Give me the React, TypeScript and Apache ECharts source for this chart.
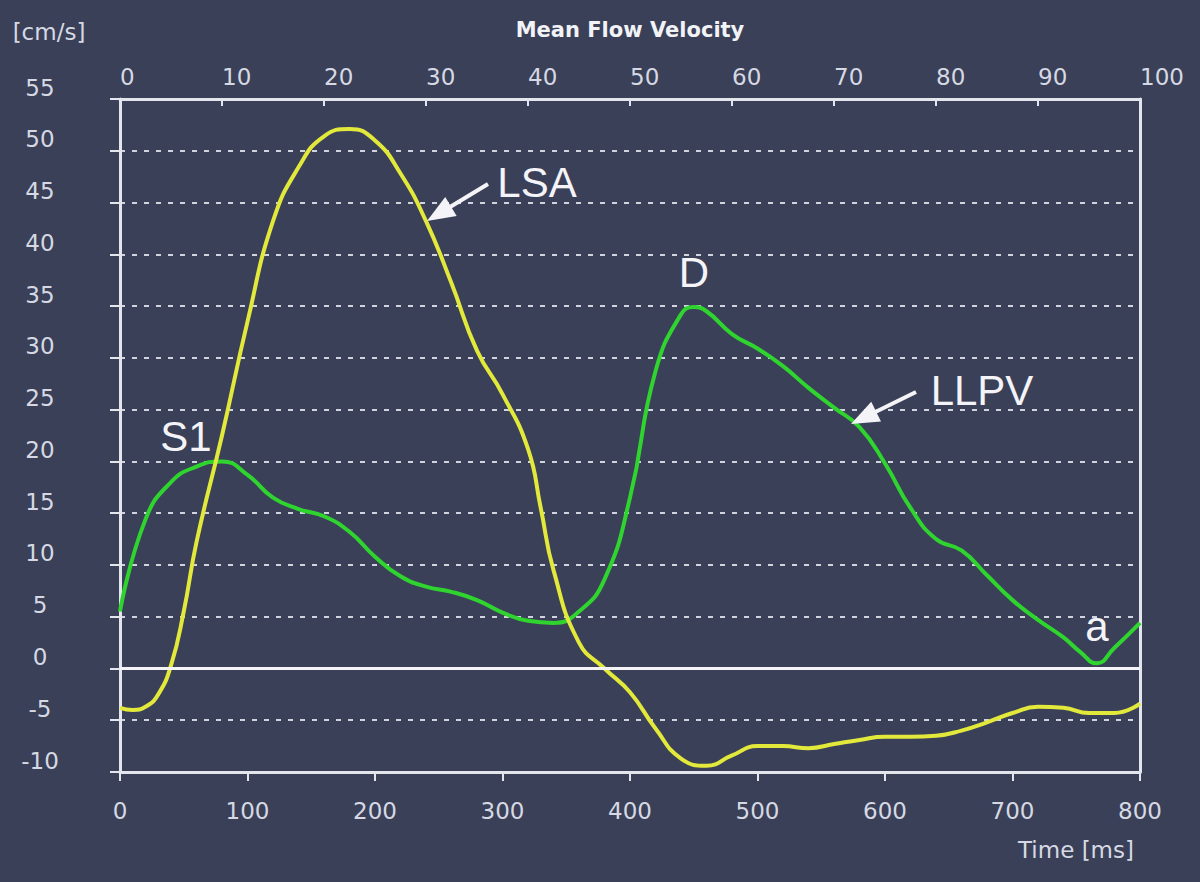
import React, { useEffect, useRef } from "react";
import * as echarts from "echarts";

// ---- data ----
const lsaTime = [0, 10, 20, 30, 40, 50, 60, 80, 100, 120, 140, 160, 180, 200, 220, 240, 260, 280, 300, 320, 330, 340, 360, 380, 400, 420, 440, 460, 480, 500, 520, 540, 560, 580, 600, 620, 640, 660, 680, 700, 720, 740, 760, 780, 800];
const lsaValues = [-3.8, -4.0, -3.7, -2.5, 0.3, 5.5, 12.2, 22.5, 33.5, 43.2, 48.4, 51.4, 52.1, 51.0, 47.8, 43.2, 37.2, 30.7, 26.5, 21.2, 15.5, 9.5, 2.5, 0, -2.3, -5.8, -8.7, -9.4, -8.4, -7.5, -7.5, -7.7, -7.3, -6.9, -6.6, -6.6, -6.5, -6.0, -5.2, -4.3, -3.7, -3.8, -4.3, -4.3, -3.4];

const llpvTime = [0, 20, 40, 60, 80, 100, 120, 140, 160, 180, 200, 220, 240, 260, 280, 300, 320, 340, 360, 380, 400, 420, 440, 450, 460, 480, 500, 520, 540, 560, 580, 600, 620, 640, 660, 680, 700, 720, 740, 753, 766, 780, 800];
const llpvValues = [5.5, 14.4, 18.0, 19.5, 20.0, 18.7, 16.5, 15.4, 14.7, 13.2, 10.8, 8.9, 7.9, 7.4, 6.6, 5.4, 4.6, 4.4, 5.5, 8.6, 16.5, 28.7, 34.2, 34.9, 34.5, 32.3, 30.9, 29.2, 27.1, 25.2, 23.3, 19.8, 15.5, 12.5, 11.4, 9.0, 6.6, 4.7, 3.0, 1.6, 0.5, 2.0, 4.4];

const timeMin = 0, timeMax = 800, timeStep = 100;
const pctMin = 0, pctMax = 100, pctStep = 10;
const velMin = -10, velMax = 55, velStep = 5;

const titleText = "Mean Flow Velocity";
const yUnit = "[cm/s]";
const xName = "Time [ms]";

// ---- style ----
const BG = "#3a4058";
const AXIS = "#e4e6ee";
const LABEL = "#d6d9e3";
const YELLOW = "#e2e93a";
const GREEN = "#2fd42f";
const WHITE = "#f4f4f8";
const AX_FONT = '"DejaVu Sans", sans-serif';
const ANN_FONT = '"Liberation Sans", Arial, sans-serif';
const AX_SIZE = 23;

function arrow(tail: number[], tip: number[], headLen: number, headHalf: number) {
  const dx = tip[0] - tail[0];
  const dy = tip[1] - tail[1];
  const len = Math.sqrt(dx * dx + dy * dy);
  const ux = dx / len, uy = dy / len;
  const bx = tip[0] - ux * headLen, by = tip[1] - uy * headLen;
  const px = -uy * headHalf, py = ux * headHalf;
  return [
    {
      type: "line",
      shape: { x1: tail[0], y1: tail[1], x2: bx + ux * 2, y2: by + uy * 2 },
      style: { stroke: WHITE, lineWidth: 4 },
      z: 100,
    },
    {
      type: "polygon",
      shape: { points: [[tip[0], tip[1]], [bx + px, by + py], [bx - px, by - py]] },
      style: { fill: WHITE },
      z: 100,
    },
  ];
}

function annot(text: string, x: number, y: number) {
  return {
    type: "text",
    x,
    y,
    z: 100,
    style: { text, fill: WHITE, font: `42px ${ANN_FONT}`, align: "center", verticalAlign: "middle" },
  };
}

export default function App() {
  const ref = useRef<HTMLDivElement>(null);
  useEffect(() => {
    if (!ref.current) return;
    const chart = echarts.init(ref.current, null, { renderer: "svg" });
    const option: any = {
      animation: false,
      backgroundColor: BG,
      grid: { left: 120, right: 60, top: 99, bottom: 110, show: false },
      xAxis: [
        {
          type: "value",
          position: "bottom",
          min: timeMin,
          max: timeMax,
          interval: timeStep,
          axisLine: { show: true, onZero: false, lineStyle: { color: AXIS, width: 3 } },
          axisTick: { show: true, inside: false, length: 9, lineStyle: { color: AXIS, width: 2 } },
          axisLabel: { color: LABEL, fontSize: AX_SIZE, fontFamily: AX_FONT, margin: 27 },
          splitLine: { show: false },
        },
        {
          type: "value",
          position: "top",
          min: pctMin,
          max: pctMax,
          interval: pctStep,
          axisLine: { show: true, onZero: false, lineStyle: { color: AXIS, width: 3 } },
          axisTick: { show: true, inside: true, length: 7, lineStyle: { color: AXIS, width: 2 } },
          axisLabel: { color: LABEL, fontSize: AX_SIZE, fontFamily: AX_FONT, margin: 11, align: "left" },
          splitLine: { show: false },
        },
      ],
      yAxis: [
        {
          type: "value",
          position: "left",
          min: velMin,
          max: velMax,
          interval: velStep,
          axisLine: { show: true, onZero: false, lineStyle: { color: AXIS, width: 3 } },
          axisTick: { show: true, inside: false, length: 10, lineStyle: { color: AXIS, width: 2 } },
          axisLabel: {
            color: LABEL,
            fontSize: AX_SIZE,
            fontFamily: AX_FONT,
            margin: 80,
            align: "center",
            verticalAlign: "bottom",
          },
          splitLine: { show: true, lineStyle: { color: "rgba(236,238,246,0.85)", width: 2, type: [5, 7] } },
        },
        {
          type: "value",
          position: "right",
          min: velMin,
          max: velMax,
          interval: velStep,
          axisLine: { show: true, onZero: false, lineStyle: { color: AXIS, width: 3 } },
          axisTick: { show: false },
          axisLabel: { show: false },
          splitLine: { show: false },
        },
      ],
      series: [
        {
          name: "zero",
          type: "line",
          data: [],
          z: 1,
          markLine: {
            silent: true,
            symbol: "none",
            label: { show: false },
            lineStyle: { color: WHITE, type: "solid", width: 3 },
            data: [{ yAxis: 0 }],
          },
        },
        {
          name: "LLPV",
          type: "line",
          xAxisIndex: 0,
          yAxisIndex: 0,
          smooth: 0.5,
          symbol: "none",
          z: 3,
          lineStyle: { color: GREEN, width: 4 },
          data: llpvTime.map((t, i) => [t, llpvValues[i]]),
        },
        {
          name: "LSA",
          type: "line",
          xAxisIndex: 0,
          yAxisIndex: 0,
          smooth: 0.5,
          symbol: "none",
          z: 4,
          lineStyle: { color: YELLOW, width: 4 },
          data: lsaTime.map((t, i) => [t, lsaValues[i]]),
        },
      ],
      graphic: [
        {
          type: "text",
          x: 630,
          y: 30,
          style: { text: titleText, fill: "#f2f3f7", font: `bold 21px ${AX_FONT}`, align: "center", verticalAlign: "middle" },
        },
        {
          type: "text",
          x: 49,
          y: 32,
          style: { text: yUnit, fill: LABEL, font: `${AX_SIZE}px ${AX_FONT}`, align: "center", verticalAlign: "middle" },
        },
        {
          type: "text",
          x: 1076,
          y: 850,
          style: { text: xName, fill: LABEL, font: `${AX_SIZE}px ${AX_FONT}`, align: "center", verticalAlign: "middle" },
        },
        annot("S1", 186, 436),
        annot("LSA", 537, 182),
        annot("D", 694, 272),
        annot("LLPV", 982, 390),
        annot("a", 1097, 626),
        ...arrow([488, 184], [427, 221], 28, 11),
        ...arrow([916, 392], [851, 424], 28, 11),
      ],
    };
    chart.setOption(option);
    return () => chart.dispose();
  }, []);
  return (
    <div
      ref={ref}
      style={{ position: "fixed", left: 0, top: 0, width: 1200, height: 882, background: BG }}
    />
  );
}
